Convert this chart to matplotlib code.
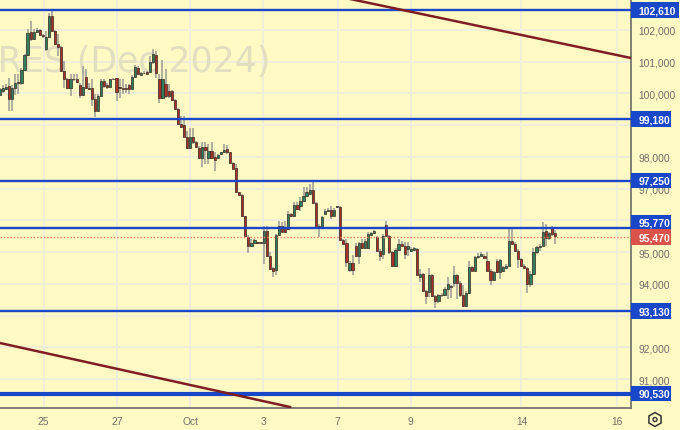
import matplotlib
matplotlib.use('Agg')
import matplotlib.pyplot as plt
from matplotlib.patches import Rectangle, RegularPolygon, Circle
from matplotlib.transforms import IdentityTransform

# candles, oldest first
opens = [99950,100076,100149,100233,99814,100180,100369,100338,100725,101196,101939,101699,101939,101981,101824,101385,101782,102452,101960,101542,101468,100704,100442,100180,100442,100442,100264,99950,100526,100180,100180,99835,99448,99919,100390,100254,100212,100442,100474,100180,100180,100149,100264,100149,100526,100809,100578,100631,100673,100673,100987,101206,100463,99866,100306,100076,100076,99783,99521,99050,
         98997,98631,98264,98631,98453,98275,97961,98296,97961,98170,97982,97961,98086,98139,98233,98139,97793,97636,96882,96798,96128,95490,95186,95291,95291,95280,95291,95678,94862,94495,94422,95542,95814,95752,95730,96202,96128,96484,96463,96621,96757,96830,96966,96537,95835,95783,96202,96306,96338,96149,96411,96432,95396,95291,94422,94663,95207,94862,95291,95123,95123,95552,95605,
         95488,95048,94943,95865,95519,95017,94556,95080,95258,95205,95100,95048,95080,95100,94211,94315,93760,93739,94284,93614,93446,93635,93656,93844,93907,94033,94263,94033,93656,93289,93719,94525,94420,94839,94891,94891,94734,94420,94106,94734,94368,94420,94493,94577,95362,95258,95048,94787,94577,94493,94001,94315,94996,95153,95205,95676,95436,95781,95593]
highs = [100180,100254,100285,100474,100254,100599,100599,100809,101227,102013,102274,102013,102044,102034,101856,101960,102536,102589,101992,101856,101489,101018,100494,100599,100599,100599,100338,100861,100756,100338,100442,99971,99971,100442,100442,100338,100463,100494,100494,100442,100442,100285,100285,100568,100882,100861,100673,100704,100704,101175,101405,101332,100599,101049,100756,100285,100107,99814,99552,99290,
         99290,98819,98893,98893,98505,98348,98453,98474,98400,98453,98139,98086,98160,98400,98369,98160,97825,97772,96903,96819,96149,95542,95416,95416,95333,95333,95835,95835,95000,94526,95574,95992,95961,95992,96306,96233,96568,96568,96725,97039,97039,97144,97217,96568,95888,96149,96359,96380,96463,96380,96463,96463,95416,95416,94704,94893,95291,95333,95416,95416,95626,95647,95710,
         95519,95100,95572,95991,95540,95048,95121,95415,95362,95310,95310,95153,95153,95121,94472,94336,93792,94493,94315,93656,93687,93719,93897,94211,93970,94577,94315,94075,93949,93760,94734,94577,94891,94975,94996,94944,94996,94472,94420,94787,94787,94577,94629,95729,95729,95310,95100,94807,94629,94525,94420,95121,95205,95258,95938,95886,95645,95812,95708]
lows = [99919,100023,100107,99448,99448,99950,99971,100254,100704,101175,101646,101678,101908,101803,101751,101332,101751,101929,101510,101175,100672,100180,100149,99919,100390,100338,99866,99919,100128,100107,99605,99270,99416,99898,100180,100149,100180,100421,99762,99866,99971,100023,99971,100128,100494,100568,100547,100599,100589,100652,100913,100494,99709,99814,99866,99866,99762,99500,98997,98924,
        98610,98243,98243,98400,98264,97929,97668,97772,97772,97929,97563,97929,98055,98118,98086,97772,97615,96861,96778,96107,95500,94977,95155,95270,95260,95260,94631,94841,94443,94212,94265,95521,95626,95605,95710,96097,96107,96338,96306,96568,96725,96798,96516,95730,95469,95752,96170,96275,96045,96128,96380,95364,95228,94527,94370,94265,94841,94631,95102,95102,95102,95521,95584,
        95017,94734,94787,95498,94943,94525,94525,95048,95184,94787,94891,95017,95048,94242,94054,93739,93373,93582,93582,93237,93404,93582,93614,93530,93551,93897,93530,93582,93268,93268,93687,94389,94389,94787,94839,94787,94389,93949,94075,94347,94158,94368,94472,94556,95226,95017,94493,94525,94472,93718,93896,94284,94943,95048,95184,95205,95394,95519,95257]
closes = [100128,100180,100212,99814,100180,100338,100317,100725,101196,101887,101699,101939,101992,101824,101803,101782,102431,101960,101542,101468,100704,100442,100180,100442,100463,100369,99950,100212,100180,100149,99814,99448,99919,100390,100233,100201,100442,100463,100044,100160,100149,100128,100149,100526,100819,100610,100631,100652,100610,100987,101227,100631,99866,100463,99919,99919,99783,99521,99050,98955,
          98631,98264,98631,98453,98296,97961,98296,98222,98191,97961,97898,98065,98139,98212,98139,97793,97615,96882,96798,96128,95521,95186,95291,95396,95280,95291,95678,94872,94474,94401,95542,95814,95647,95647,96202,96128,96484,96359,96621,96757,96903,96966,96537,95762,95762,96097,96306,96338,96149,96338,96442,95396,95259,94684,94663,94422,94872,95291,95123,95364,95574,95605,95657,
          95048,94891,95519,95519,95017,94556,95080,95258,95205,94943,95205,95100,95121,94263,94315,93760,93614,94284,93614,93446,93656,93656,93844,94001,93928,94263,94033,93656,93289,93719,94525,94420,94839,94891,94944,94807,94420,94106,94368,94368,94755,94525,94577,95362,95258,95048,94787,94577,94493,94001,94315,94996,95153,95205,95645,95436,95603,95572,95519]

levels = [102610, 99180, 97250, 95770, 93130, 90530]
level_labels = ['102,610', '99,180', '97,250', '95,770', '93,130', '90,530']
last_price = 95470
last_label = '95,470'
price_ticks = [91000, 92000, 93000, 94000, 95000, 96000, 97000, 98000, 99000, 100000, 101000, 102000]
# labels that sit under a badge are hidden in the reference
price_labels = ['91,000', '92,000', '', '94,000', '95,000', '', '97,000', '98,000', '', '100,000', '101,000', '102,000']
date_ticks = [14.19, 38.16, 62.13, 85.94, 110.08, 133.89, 170.09, 201.08]
date_labels = ['25', '27', 'Oct', '3', '7', '9', '14', '16']
trend_x = [[114.2, 205.8], [0.0, 94.6]]
trend_y = [[102972, 101113], [92136, 90120]]

BG = '#FFF9C4'
BLUE = '#1A47C8'
RED = '#A8322A'
GREEN = '#2F7F5F'
EDGE = '#3A2A20'

plt.rcParams['font.family'] = ['Liberation Sans', 'DejaVu Sans']

fig = plt.figure(figsize=(6.8, 4.31), dpi=100, facecolor=BG)
ax = fig.add_axes([0, 22 / 431, 631 / 680, 409 / 431], facecolor=BG)
ax.set_xlim(0, 631 / 3.066)
ax.set_ylim(90089, 102972)

ax.grid(True, color='#EFEDDC', lw=1.3)
ax.set_axisbelow(True)
ax.set_xticks(date_ticks, date_labels)
ax.set_yticks(price_ticks, price_labels)
ax.yaxis.tick_right()
ax.tick_params(length=0, labelsize=7.4, labelcolor='#6f6f6a')
ax.tick_params(axis='x', pad=6)
ax.tick_params(axis='y', pad=5.5)
for s in ['top', 'left']:
    ax.spines[s].set_visible(False)
for s in ['right', 'bottom']:
    ax.spines[s].set_color('#77776f')
    ax.spines[s].set_linewidth(1.3)

# watermark, cut by the left edge
ax.text(270 / 3.066, 100700, 'FUTURES (Dec 2024)', ha='right', va='baseline', fontsize=25,
        color='#E2DEC0', zorder=1, clip_on=True, family='DejaVu Sans')

# candles
xs = list(range(len(opens)))
colors = [GREEN if c >= o else RED for o, c in zip(opens, closes)]
ax.vlines(xs, lows, highs, color='#a3a398', lw=1.2, zorder=3)
ax.bar(xs, [max(abs(c - o), 25) for o, c in zip(opens, closes)],
       bottom=[min(o, c) for o, c in zip(opens, closes)], width=0.72,
       color=colors, edgecolor=EDGE, linewidth=0.5, zorder=4)

# levels
for lev in levels:
    ax.axhline(lev, color=BLUE, lw=3.0 if lev == 90530 else 1.7, zorder=5)
ax.axhline(last_price, color='#EE7A62', lw=1.0, ls=(0, (1, 1.4)), zorder=5)

# trend lines
for tx, ty in zip(trend_x, trend_y):
    ax.plot(tx, ty, color='#7E1E22', lw=1.8, zorder=6)

# price badges on the axis, drawn in pixels
fig.canvas.draw()
px = IdentityTransform()
def badge(price, label, color, shift=0):
    y = ax.transData.transform((0, price))[1] + shift
    w = 48 if len(label) == 7 else 40
    fig.add_artist(Rectangle((631, y - 7.5), w, 15.5, fc=color, ec='none', transform=px, zorder=5))
    fig.text(638.5, y, label, ha='left', va='center', color='white', fontsize=7.5,
             fontweight='bold', transform=px, zorder=6)
for lev, lab in zip(levels, level_labels):
    badge(lev, lab, BLUE, 5 if lev == 95770 else 0)
badge(last_price, last_label, '#D9534A')

# settings icon in the corner
fig.add_artist(RegularPolygon((655, 10.5), 6, radius=7, fc='none', ec='#333333', lw=1.1, transform=px))
fig.add_artist(Circle((655, 10.5), 2, fc='none', ec='#333333', lw=1.0, transform=px))

fig.savefig('out.png', dpi=100, facecolor=BG)
